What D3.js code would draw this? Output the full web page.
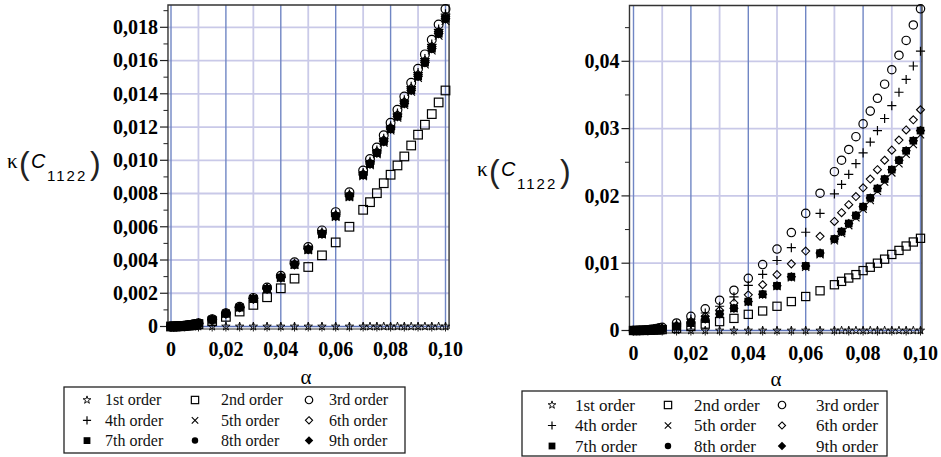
<!DOCTYPE html>
<html>
<head>
<meta charset="utf-8">
<script src="https://cdn.jsdelivr.net/npm/d3@7"></script>
<style>
  body { margin: 0; background: #fff; }
  svg { display: block; }
  .tick-label { font-family: "Liberation Serif", "Times New Roman", serif; font-weight: bold; font-size: 20px; fill: #000; }
  .leg { font-family: "Liberation Serif", "Times New Roman", serif; fill: #111; }
</style>
</head>
<body>
<svg id="chart" width="941" height="457"></svg>
<script>
// alpha values (x) shared by every series
var alpha = [0, 0.001, 0.002, 0.003, 0.004, 0.005, 0.006, 0.007, 0.008, 0.009, 0.01,
  0.015, 0.02, 0.025, 0.03, 0.035, 0.04, 0.045, 0.05, 0.055, 0.06, 0.065,
  0.07, 0.0725, 0.075, 0.0775, 0.08, 0.0825, 0.085, 0.0875, 0.09, 0.0925, 0.095, 0.0975, 0.1];

// kappa values, in units of 1e-4
var order1 = [0,0,0,0,0,0,0,0,0,0,0,0,0,0,0,0,0,0,0,0,0,0,0,0,0,0,0,0,0,0,0,0,0,0,0];

// left panel
var left2 = [0,0.014,0.057,0.13,0.23,0.36,0.51,0.7,0.92,1.16,1.43,3.2,5.8,9.0,13.0,17.6,23.0,28.8,35.8,42.8,50.6,60.0,70.2,74.8,80.2,86.2,91.3,96.9,102.3,108.9,115.4,121.4,127.8,134.8,142.0];
var left3 = [0,0.02,0.077,0.17,0.31,0.48,0.69,0.94,1.23,1.55,1.9,4.3,8.0,11.9,17.2,23.4,30.5,38.6,47.8,57.8,68.8,80.8,93.8,100.7,107.7,115.0,122.6,130.4,138.4,146.6,155.1,163.7,172.5,181.7,191.0];
var left4 = [0,0.02,0.075,0.17,0.3,0.47,0.68,0.92,1.21,1.53,1.9,4.25,7.9,11.7,16.9,23.0,29.9,37.9,47.0,56.7,67.5,79.5,92.4,99.2,106.0,113.1,120.6,128.3,136.2,144.3,152.7,161.1,169.7,178.8,187.9];
var left5 = [0,0.02,0.073,0.17,0.29,0.46,0.66,0.9,1.18,1.5,1.85,4.15,7.7,11.4,16.5,22.4,29.2,36.9,45.9,55.3,65.9,77.7,90.4,97.0,103.6,110.5,117.9,125.5,133.2,141.2,149.4,157.6,166.0,174.9,183.8];
var left6 = [0,0.02,0.075,0.17,0.3,0.47,0.67,0.92,1.2,1.52,1.88,4.22,7.85,11.6,16.8,22.8,29.7,37.6,46.7,56.2,67.0,79.0,91.8,98.5,105.2,112.2,119.7,127.4,135.2,143.3,151.6,159.9,168.5,177.5,186.6];
var left7 = [0,0.02,0.074,0.17,0.3,0.46,0.67,0.91,1.2,1.5,1.9,4.2,7.8,11.5,16.6,22.6,29.4,37.2,46.3,55.7,66.4,78.3,91.1,97.8,104.4,111.3,118.8,126.4,134.2,142.2,150.5,158.8,167.2,176.2,185.2];
var left8 = [0,0.02,0.074,0.17,0.3,0.46,0.67,0.91,1.2,1.5,1.88,4.2,7.8,11.5,16.6,22.6,29.4,37.2,46.2,55.7,66.3,78.2,91.0,97.7,104.3,111.2,118.7,126.3,134.1,142.1,150.4,158.7,167.1,176.1,185.1];
var left9 = [0,0.02,0.074,0.17,0.3,0.46,0.67,0.91,1.2,1.5,1.89,4.2,7.8,11.5,16.6,22.6,29.4,37.2,46.3,55.7,66.4,78.3,91.1,97.8,104.4,111.3,118.8,126.4,134.2,142.2,150.5,158.8,167.2,176.2,185.2];

// right panel
var right2 = [0,0.014,0.056,0.13,0.22,0.35,0.5,0.69,0.9,1.13,1.4,3.2,6.0,9.5,13.2,18.0,24.0,29.0,36.0,43.0,50.5,59.0,68.0,73.0,78.0,83.0,89.0,94.0,100.0,106.0,113.0,119.0,125.5,131.5,137.0];
var right3 = [0,0.05,0.19,0.43,0.77,1.2,1.72,2.34,3.06,3.87,4.78,11.2,21.0,32.2,45.0,59.8,77.5,98.0,121.0,145.5,174.0,204.0,236.0,253.0,269.0,288.0,307.0,326.0,345.0,366.0,387.5,409.0,431.0,454.0,478.0];
var right4 = [0,0.04,0.17,0.37,0.66,1.04,1.5,2.03,2.66,3.36,4.15,9.5,17.0,26.0,36.0,50.0,67.0,83.5,104.0,123.0,146.0,174.0,203.0,217.0,232.0,248.0,264.0,280.0,297.0,315.0,334.0,354.0,373.0,393.0,415.0];
var right5 = [0,0.03,0.11,0.23,0.42,0.66,0.95,1.29,1.68,2.13,2.64,6.0,10.8,16.6,24.0,32.3,42.1,52.9,65.2,78.4,94.1,112.7,133.3,144.1,155.8,167.6,180.3,193.1,206.8,220.5,234.2,247.9,261.7,276.4,291.0];
var right6 = [0,0.03,0.13,0.3,0.53,0.83,1.19,1.62,2.11,2.67,3.3,7.6,13.5,21.0,30.0,41.0,53.0,68.0,83.0,99.0,118.0,140.0,162.0,175.0,187.0,199.0,212.0,225.0,239.0,253.0,268.0,283.0,298.0,313.0,328.0];
var right7 = [0,0.03,0.11,0.24,0.43,0.67,0.97,1.32,1.72,2.18,2.7,6.1,11.0,17.0,24.5,33.0,43.0,54.0,66.5,80.0,96.0,115.0,136.0,147.0,159.0,171.0,184.0,197.0,211.0,225.0,239.0,253.0,267.0,282.0,297.0];
var right8 = [0,0.03,0.11,0.24,0.43,0.67,0.97,1.32,1.72,2.18,2.7,6.1,11.0,17.0,24.4,33.0,43.0,54.0,66.4,80.0,96.0,115.0,136.0,147.0,159.0,171.0,184.0,197.0,211.0,225.0,239.0,253.0,267.0,282.0,297.5];
var right9 = [0,0.03,0.11,0.24,0.43,0.67,0.97,1.32,1.72,2.18,2.7,6.1,11.0,17.0,24.5,33.0,43.0,54.0,66.5,80.0,96.0,115.0,136.0,147.0,159.0,171.0,184.0,197.0,211.0,225.0,239.0,253.0,267.0,282.0,297.0];

var orderNames = ["1st order", "2nd order", "3rd order", "4th order", "5th order", "6th order", "7th order", "8th order", "9th order"];
var orderSymbols = ["star", "square", "circle", "plus", "cross", "diamond", "fsquare", "fcircle", "fdiamond"];

var leftYTicks = [0, 0.002, 0.004, 0.006, 0.008, 0.010, 0.012, 0.014, 0.016, 0.018];
var leftYLabels = ["0", "0,002", "0,004", "0,006", "0,008", "0,010", "0,012", "0,014", "0,016", "0,018"];
var rightYTicks = [0, 0.01, 0.02, 0.03, 0.04];
var rightYLabels = ["0", "0,01", "0,02", "0,03", "0,04"];
var xTicks = [0, 0.02, 0.04, 0.06, 0.08, 0.1];
var xLabels = ["0", "0,02", "0,04", "0,06", "0,08", "0,10"];

var UNIT = 1e-4;
var svg = d3.select("#chart");

// draws one marker of a given kind centred on 0,0
function drawSymbol(g, kind, s) {
  var st = "#000";
  if (kind == "star") {
    g.append("path").attr("d", d3.symbol(d3.symbolStar, 22 * s)()).attr("fill", "none").attr("stroke", st).attr("stroke-width", 0.9);
  } else if (kind == "square") {
    g.append("rect").attr("x", -4.3 * s).attr("y", -4.3 * s).attr("width", 8.6 * s).attr("height", 8.6 * s)
      .attr("fill", "none").attr("stroke", st).attr("stroke-width", 1.2);
  } else if (kind == "circle") {
    g.append("circle").attr("r", 4.4 * s).attr("fill", "none").attr("stroke", st).attr("stroke-width", 1.2);
  } else if (kind == "plus") {
    var a = 4.8 * s;
    g.append("path").attr("d", "M" + (-a) + ",0H" + a + "M0," + (-a) + "V" + a).attr("stroke", st).attr("stroke-width", 1.2);
  } else if (kind == "cross") {
    var b = 3.8 * s;
    g.append("path").attr("d", "M" + (-b) + "," + (-b) + "L" + b + "," + b + "M" + (-b) + "," + b + "L" + b + "," + (-b)).attr("stroke", st).attr("stroke-width", 1.1);
  } else if (kind == "diamond") {
    var c = 4.2 * s;
    g.append("path").attr("d", "M0," + (-c) + "L" + c + ",0L0," + c + "L" + (-c) + ",0Z").attr("fill", "none").attr("stroke", st).attr("stroke-width", 1.1);
  } else if (kind == "fsquare") {
    g.append("rect").attr("x", -4 * s).attr("y", -4 * s).attr("width", 8 * s).attr("height", 8 * s).attr("fill", st);
  } else if (kind == "fcircle") {
    g.append("circle").attr("r", 3.8 * s).attr("fill", st);
  } else if (kind == "fdiamond") {
    var e = 5 * s;
    g.append("path").attr("d", "M0," + (-e) + "L" + e + ",0L0," + e + "L" + (-e) + ",0Z").attr("fill", st);
  }
}

function drawPanel(p) {
  var x = d3.scaleLinear().domain([0, 0.1]).range([p.x0, p.x1]);
  var y = d3.scaleLinear().domain([0, p.yTop]).range([p.y0, p.y1]);
  var g = svg.append("g");
  var fx0 = x(-p.padL), fx1 = x(0.1 + p.padR), fy0 = p.frameTop, fy1 = y(0) + 2.5;

  // horizontal grid
  g.selectAll(".hg").data(p.yGrid).enter().append("line")
    .attr("x1", fx0).attr("x2", fx1).attr("y1", function(d){ return y(d); }).attr("y2", function(d){ return y(d); })
    .attr("stroke", "#c9c9e8").attr("stroke-width", 1.8);
  // vertical grid
  g.selectAll(".vg").data(d3.range(0, 11)).enter().append("line")
    .attr("x1", function(d){ return x(d / 100); }).attr("x2", function(d){ return x(d / 100); })
    .attr("y1", fy0).attr("y2", y(0))
    .attr("stroke", function(d){ return d % 2 == 0 ? "#7086c4" : "#cacae8"; })
    .attr("stroke-width", function(d){ return d % 2 == 0 ? 1.4 : 1.8; });
  // zero line
  g.append("line").attr("x1", fx0).attr("x2", fx1).attr("y1", y(0)).attr("y2", y(0))
    .attr("stroke", "#5c72b8").attr("stroke-width", 1.4);

  // frame
  g.append("path").attr("d", "M" + fx0 + "," + fy1 + "V" + fy0 + "H" + fx1 + "V" + fy1)
    .attr("fill", "none").attr("stroke", "#333").attr("stroke-width", 1.4);
  g.append("line").attr("x1", fx0).attr("x2", fx1).attr("y1", fy1).attr("y2", fy1)
    .attr("stroke", "#333").attr("stroke-width", 1);

  // y ticks (major + minor)
  g.selectAll(".ymin").data(p.yMinor).enter().append("line")
    .attr("x1", fx0 - 4.5).attr("x2", fx0).attr("y1", function(d){ return y(d); }).attr("y2", function(d){ return y(d); })
    .attr("stroke", "#222").attr("stroke-width", 1);
  g.selectAll(".ymaj").data(p.yTicks).enter().append("line")
    .attr("x1", fx0 - 8).attr("x2", fx0).attr("y1", function(d){ return y(d); }).attr("y2", function(d){ return y(d); })
    .attr("stroke", "#222").attr("stroke-width", 1.2);
  g.selectAll(".ylab").data(p.yTicks).enter().append("text")
    .attr("class", "tick-label").attr("text-anchor", "end")
    .attr("x", fx0 - 10).attr("y", function(d){ return y(d); }).attr("dy", "0.34em")
    .text(function(d, i){ return p.yLabels[i]; });

  // x ticks crossing the axis
  g.selectAll(".xmin").data(d3.range(0, 21)).enter().append("line")
    .attr("x1", function(d){ return x(d * 0.005); }).attr("x2", function(d){ return x(d * 0.005); })
    .attr("y1", y(0) - 4).attr("y2", y(0) + 5)
    .attr("stroke", "#222").attr("stroke-width", 1);
  g.selectAll(".xlab").data(xTicks).enter().append("text")
    .attr("class", "tick-label").attr("text-anchor", "middle")
    .attr("x", function(d){ return x(d); }).attr("y", y(0) + 29)
    .text(function(d, i){ return xLabels[i]; });

  // axis titles
  g.append("text").attr("x", p.alphaX).attr("y", p.alphaY)
    .attr("font-family", "Liberation Serif, serif").attr("font-size", 21).attr("text-anchor", "middle").text("α");
  var t = g.append("g").attr("transform", "translate(" + p.titleX + "," + p.titleY + ")");
  t.append("text").attr("x", 0).attr("y", 0).attr("font-family", "Liberation Serif, serif").attr("font-size", 21).text("κ");
  t.append("text").attr("x", 12).attr("y", 6).attr("font-family", "Liberation Sans, sans-serif").attr("font-size", 32).attr("fill", "#222").text("(");
  t.append("text").attr("x", 24).attr("y", 0).attr("font-family", "Liberation Sans, sans-serif").attr("font-style", "italic").attr("font-size", 20).text("C");
  t.append("text").attr("x", 40).attr("y", 13).attr("font-family", "Liberation Sans, sans-serif").attr("font-size", 15).attr("letter-spacing", 2).text("1122");
  t.append("text").attr("x", 83).attr("y", 6).attr("font-family", "Liberation Sans, sans-serif").attr("font-size", 32).attr("fill", "#222").text(")");

  // data markers
  p.series.forEach(function(vals, k) {
    var pts = g.append("g");
    pts.selectAll("g").data(vals).enter().append("g")
      .attr("transform", function(d, i){ return "translate(" + x(alpha[i]) + "," + y(d * UNIT) + ")"; })
      .each(function(){ drawSymbol(d3.select(this), orderSymbols[k], p.mScale); });
  });

  // legend box
  var L = p.legend;
  g.append("rect").attr("x", L.x).attr("y", L.y).attr("width", L.w).attr("height", L.h)
    .attr("fill", "#fff").attr("stroke", "#222").attr("stroke-width", 1.3);
  orderNames.forEach(function(name, k) {
    var row = Math.floor(k / 3), col = k % 3;
    var sy = L.y + L.row0 + row * L.rowH;
    var sg = g.append("g").attr("transform", "translate(" + L.symX[col] + "," + sy + ")");
    drawSymbol(sg, orderSymbols[k], 0.85);
    g.append("text").attr("class", "leg").attr("font-size", L.fs)
      .attr("x", L.txtX[col]).attr("y", sy).attr("dy", "0.33em").text(name);
  });
}

drawPanel({
  x0: 171, x1: 445.5, y0: 326.5, y1: 27.3, yTop: 0.018, padL: 0.0011, padR: 0.0013, frameTop: 5,
  yTicks: leftYTicks, yLabels: leftYLabels, yGrid: leftYTicks.slice(1),
  yMinor: [0.001, 0.003, 0.005, 0.007, 0.009, 0.011, 0.013, 0.015, 0.017, 0.019],
  series: [order1, left2, left3, left4, left5, left6, left7, left8, left9], mScale: 1.0,
  alphaX: 306, alphaY: 384, titleX: 7, titleY: 168,
  legend: { x: 64, y: 387, w: 341, h: 66, row0: 13, rowH: 20.3, fs: 16,
    symX: [87, 195, 309], txtX: [105, 221, 329] }
});

drawPanel({
  x0: 633.5, x1: 920.5, y0: 330.5, y1: 61.3, yTop: 0.04, padL: 0.0014, padR: 0.0005, frameTop: 5.5,
  yTicks: rightYTicks, yLabels: rightYLabels, yGrid: rightYTicks.slice(1),
  yMinor: [0.005, 0.015, 0.025, 0.035, 0.045],
  series: [order1, right2, right3, right4, right5, right6, right7, right8, right9], mScale: 0.95,
  alphaX: 776, alphaY: 386, titleX: 477, titleY: 176,
  legend: { x: 522, y: 391, w: 365, h: 65, row0: 14, rowH: 20.5, fs: 17,
    symX: [552, 668, 782], txtX: [575, 694, 816] }
});
</script>
</body>
</html>
